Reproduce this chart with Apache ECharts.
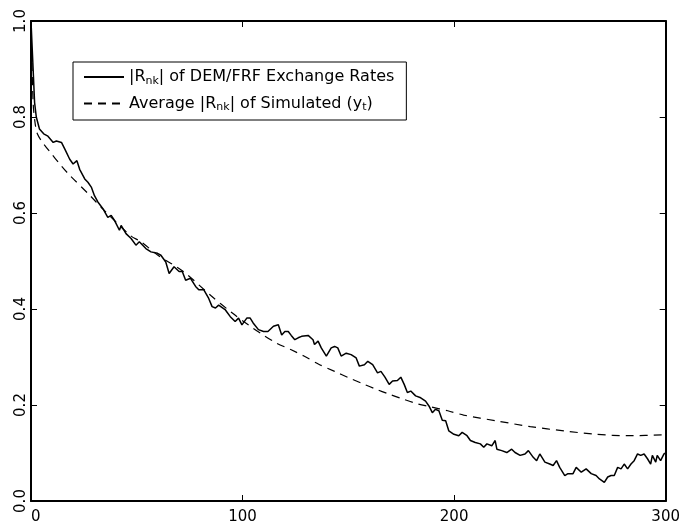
<!DOCTYPE html>
<html>
<head>
<meta charset="utf-8">
<script src="https://cdn.jsdelivr.net/npm/echarts@6/dist/echarts.min.js"></script>
<style>
  html, body { margin: 0; padding: 0; background: #fff; }
  #chart { width: 683px; height: 525px; }
</style>
</head>
<body>
<div id="chart"></div>
<script>
// |R_nk| of the DEM/FRF exchange rates (lag k, value)
const demLag = [0, 1, 1.7, 2.5, 4, 6, 8, 10.5, 12, 14.4, 16, 18.3, 19.9, 21.7, 23, 25.4, 26.9, 28.5, 30, 31.6,
  34, 36.3, 37.9, 39.4, 41.8, 42.6, 44.9, 47.3, 49.6, 51.2, 54.3, 56.7, 59.8, 61.4, 63.7, 65.3, 67.6, 70, 71.5, 73.1,
  75.4, 77.8, 79.3, 81.7, 84, 85.6, 87.2, 88.7, 91.9, 94.2, 96.5, 98.1, 99.7, 102, 103.6, 105, 107.5, 109.9, 112, 114.6,
  116.9, 118.5, 120, 121.6, 123, 124.7, 126.3, 127.9, 131, 133.3, 134, 135.7, 137.2, 139.6, 141.9, 143.5, 145, 146.6, 149, 151.3,
  153.7, 155.2, 157.6, 159.2, 161.5, 163.8, 165.4, 167.3, 169.3, 170.9, 173.2, 174.8, 176.4, 177.9, 179.5, 181.8, 184.2, 186.5, 188.1, 189.7,
  191.2, 192.8, 194.4, 196, 197.5, 199.9, 202.2, 203.8, 206.1, 207.7, 210, 212.4, 214, 215.5, 217.8, 219.4, 220.2, 222.5, 224.9, 227.2,
  228.8, 231.2, 233.5, 235.1, 237.4, 239, 240.5, 242.9, 245.2, 246.8, 248.4, 249.9, 252.3, 253.8, 256.2, 257.7, 260.1, 262.4, 264.8, 267.1,
  268.7, 271, 272.6, 274.2, 275.7, 277.3, 278.9, 280.4, 282, 283.6, 285.1, 286.7, 288.2, 289.8, 291.4, 292.9, 293.7, 295.3, 296, 297.6,
  299.2, 300]
const demVal = [1.0, 0.9, 0.83, 0.80, 0.775, 0.765, 0.76, 0.747, 0.75, 0.747, 0.733, 0.712, 0.702, 0.709, 0.691, 0.671, 0.664, 0.654, 0.636, 0.623,
  0.609, 0.591, 0.595, 0.585, 0.564, 0.574, 0.557, 0.547, 0.533, 0.54, 0.526, 0.519, 0.516, 0.512, 0.498, 0.474, 0.488, 0.478, 0.478, 0.46,
  0.464, 0.447, 0.44, 0.44, 0.422, 0.405, 0.402, 0.408, 0.398, 0.384, 0.374, 0.381, 0.367, 0.381, 0.381, 0.371, 0.357, 0.353, 0.353, 0.364,
  0.367, 0.346, 0.353, 0.353, 0.345, 0.336, 0.34, 0.343, 0.345, 0.336, 0.326, 0.333, 0.319, 0.302, 0.319, 0.322, 0.319, 0.302, 0.308, 0.305,
  0.298, 0.281, 0.284, 0.291, 0.284, 0.267, 0.27, 0.258, 0.243, 0.25, 0.251, 0.258, 0.243, 0.226, 0.229, 0.219, 0.215, 0.208, 0.198, 0.184,
  0.191, 0.188, 0.168, 0.167, 0.146, 0.139, 0.136, 0.143, 0.136, 0.126, 0.122, 0.119, 0.112, 0.119, 0.115, 0.126, 0.108, 0.105, 0.101, 0.108,
  0.101, 0.095, 0.098, 0.105, 0.091, 0.084, 0.098, 0.081, 0.077, 0.074, 0.084, 0.07, 0.053, 0.057, 0.057, 0.07, 0.06, 0.067, 0.057, 0.053,
  0.046, 0.039, 0.05, 0.053, 0.053, 0.07, 0.067, 0.077, 0.067, 0.077, 0.084, 0.098, 0.095, 0.098, 0.088, 0.077, 0.095, 0.081, 0.095, 0.084,
  0.098, 0.1]

// average |R_nk| of the simulated (y_t)
const simLag = [0, 1, 2, 3, 5, 9, 14, 18, 28, 34, 47, 52, 60, 72, 85, 95, 103, 109, 116, 123, 129, 136, 143.5, 150,
  157, 163, 169, 176, 183, 189, 197, 204.5, 220, 236, 252, 267, 283, 300]
const simVal = [1.0, 0.83, 0.785, 0.765, 0.75, 0.727, 0.70, 0.68, 0.636, 0.608, 0.553, 0.54, 0.512, 0.478, 0.428, 0.392,
  0.366, 0.348, 0.329, 0.315, 0.302, 0.285, 0.27, 0.257, 0.244, 0.233, 0.223, 0.212, 0.202, 0.196, 0.188, 0.179,
  0.167, 0.155, 0.146, 0.139, 0.136, 0.138]

const xTicks = [0, 100, 200, 300]
const yTicks = ['0.0', '0.2', '0.4', '0.6', '0.8', '1.0']
const seriesNames = ['dem', 'sim']
const legendLabels = {
  dem: '{n||R}{s|nk}{n|| of DEM/FRF Exchange Rates}',
  sim: '{n|Average |R}{s|nk}{n|| of Simulated (y}{s|t}{n|)}'
}

const font = 'DejaVu Sans'
const pairs = (xs, ys) => xs.map((x, i) => [x, ys[i]])

const chart = echarts.init(document.getElementById('chart'))

const axisCommon = {
  type: 'value',
  axisLine: { show: true, onZero: false, lineStyle: { color: '#000', width: 2 } },
  axisTick: { show: true, inside: true, length: 6, lineStyle: { color: '#000', width: 1 } },
  splitLine: { show: false }
}

const option = {
  animation: false,
  backgroundColor: '#fff',
  grid: { left: 31, right: 13, top: 21, bottom: 21 },
  legend: {
    orient: 'vertical',
    left: 73,
    top: 62,
    padding: [7, 12, 7, 10],
    itemGap: 9,
    itemWidth: 40,
    itemHeight: 14,
    borderColor: '#000',
    borderWidth: 1,
    data: seriesNames,
    formatter: name => legendLabels[name],
    itemStyle: { opacity: 0 },
    textStyle: {
      color: '#000',
      fontFamily: font,
      fontSize: 16,
      rich: {
        n: { fontFamily: font, fontSize: 16, color: '#000' },
        s: { fontFamily: font, fontSize: 11, color: '#000', padding: [8, 0, 0, 0] }
      }
    }
  },
  xAxis: [
    Object.assign({}, axisCommon, {
      position: 'bottom',
      min: xTicks[0], max: xTicks[xTicks.length - 1], interval: xTicks[1] - xTicks[0],
      axisLabel: {
        margin: 9, color: '#000', fontFamily: font, fontSize: 15,
        showMinLabel: true, showMaxLabel: true, alignMinLabel: 'left'
      }
    }),
    Object.assign({}, axisCommon, {
      position: 'top',
      min: xTicks[0], max: xTicks[xTicks.length - 1], interval: xTicks[1] - xTicks[0],
      axisLabel: { show: false }
    })
  ],
  yAxis: [
    Object.assign({}, axisCommon, {
      position: 'left',
      min: 0, max: 1, interval: 0.2,
      axisLabel: {
        margin: 2, rotate: 90, color: '#000', fontFamily: font, fontSize: 15,
        showMinLabel: true, showMaxLabel: true,
        formatter: v => yTicks[Math.round(v / 0.2)]
      }
    }),
    Object.assign({}, axisCommon, {
      position: 'right',
      min: 0, max: 1, interval: 0.2,
      axisLabel: { show: false }
    })
  ],
  series: [
    {
      name: 'dem',
      type: 'line',
      data: pairs(demLag, demVal),
      symbol: 'none',
      lineStyle: { color: '#000', width: 1.5, type: 'solid' },
      itemStyle: { color: '#000' },
      z: 3
    },
    {
      name: 'sim',
      type: 'line',
      data: pairs(simLag, simVal),
      symbol: 'none',
      smooth: 0.3,
      lineStyle: { color: '#000', width: 1.2, type: [8, 6] },
      itemStyle: { color: '#000' },
      z: 2
    }
  ]
}

chart.setOption(option)
</script>
</body>
</html>
